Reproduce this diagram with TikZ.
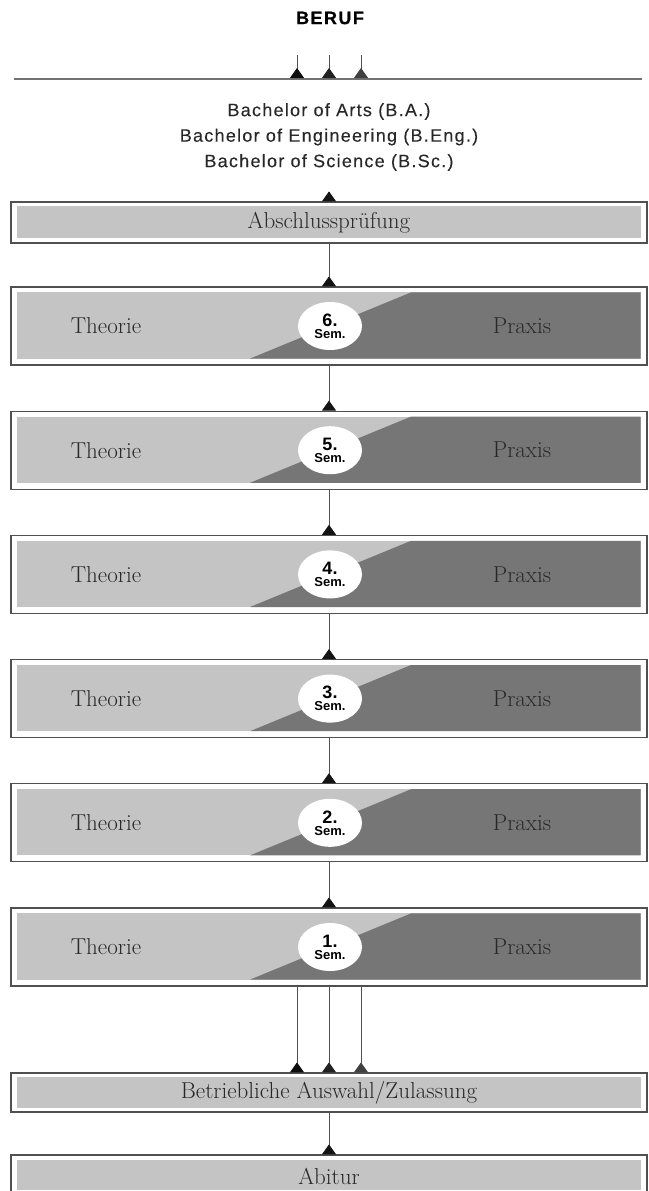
\documentclass[tikz,border=0pt]{standalone}
\usepackage{fontspec}
\setsansfont{Liberation Sans}
\usetikzlibrary{arrows.meta, shapes.geometric}
\definecolor{frame}{RGB}{80,80,80}
\definecolor{lightbar}{RGB}{196,196,196}
\definecolor{darkbar}{RGB}{118,118,118}
\definecolor{ink}{RGB}{40,40,40}

\begin{document}
\begin{tikzpicture}[x=1pt, y=-1pt,
    box/.style={draw=frame, line width=1.2pt, fill=white, minimum width=636pt, inner sep=0pt},
    link/.style={draw=frame, line width=0.9pt, -{Triangle[reversed, width=14pt, length=10pt, color=#1]}},
    link/.default=black!92,
    label/.style={text=ink, inner sep=0pt, font=\fontsize{23}{26}\selectfont\addfontfeature{LetterSpace=6, FakeBold=0.3}},
    semlabel/.style={ellipse, fill=white, minimum width=64pt, minimum height=48pt, inner sep=0pt, align=center, font=\sffamily\bfseries}
  ]
  \useasboundingbox (0,0) rectangle (648,1191);

  % top: Beruf and the degrees
  \node[font=\sffamily\bfseries\fontsize{18}{20}\selectfont\addfontfeature{LetterSpace=8, FakeBold=0.5}] (beruf) at (330,18) {BERUF};
  \coordinate (lineL) at (14,79);
  \coordinate (lineR) at (642,79);
  \draw[draw=black!55, line width=1.8pt] (lineL) -- (lineR);
  \foreach \x/\c in {297/black!95, 329/black!87, 361/black!75}{
    \coordinate (top\x) at (\x,55);
    \coordinate (bot\x) at (\x,78);
    \draw[link=\c] (top\x) -- (bot\x);
  }
  \node[text=ink, align=center, font=\sffamily\fontsize{18}{25.5}\selectfont\addfontfeature{LetterSpace=7, FakeBold=0.2}] (degrees) at (329,137)
    {Bachelor of Arts (B.A.)\\Bachelor of Engineering (B.Eng.)\\Bachelor of Science (B.Sc.)};

  % Abschlusspruefung
  \node[box, minimum height=41pt] (abschluss) at (329,222.5) {};
  \fill[lightbar] ([shift={(7pt,6pt)}]abschluss.south west) rectangle ([shift={(-7pt,-5pt)}]abschluss.north east);
  \node[label] (abschlusstext) at (abschluss) {Abschlussprüfung};

  % semesters
  \foreach \s in {6,...,1}{
    \pgfmathsetmacro\yc{287+(6-\s)*124.2+39}
    \node[box, minimum height=78pt] (sem\s) at (329,\yc) {};
    \fill[lightbar] ([shift={(7pt,7pt)}]sem\s.south west) rectangle ([shift={(-7pt,-6pt)}]sem\s.north east);
    \fill[darkbar] ([shift={(-79pt,7pt)}]sem\s.south) -- ([shift={(82pt,-6pt)}]sem\s.north)
      -- ([shift={(-7pt,-6pt)}]sem\s.north east) -- ([shift={(-7pt,7pt)}]sem\s.south east) -- cycle;
    \node[semlabel] (num\s) at ([xshift=1pt]sem\s) {{\fontsize{18}{18}\selectfont\s.}\\{\fontsize{13}{14}\selectfont Sem.}};
    \node[label] (theorie\s) at ([xshift=-223pt]sem\s) {Theorie};
    \node[label] (praxis\s) at ([xshift=193pt]sem\s) {Praxis};
  }

  % Auswahl and Abitur
  \node[box, minimum height=39pt] (auswahl) at (329,1092.5) {};
  \fill[lightbar] ([shift={(7pt,5pt)}]auswahl.south west) rectangle ([shift={(-7pt,-5pt)}]auswahl.north east);
  \node[label] (auswahltext) at (auswahl) {Betriebliche Auswahl/Zulassung};
  \node[box, minimum height=40pt] (abitur) at (329,1175) {};
  \fill[lightbar] ([shift={(7pt,6pt)}]abitur.south west) rectangle ([shift={(-7pt,-6pt)}]abitur.north east);
  \node[label] (abiturtext) at ([yshift=-1pt]abitur) {Abitur};

  % connectors
  \coordinate (degreetip) at (329,193);
  \draw[link] (degreetip) -- (abschluss.north);
  \draw[link] (abschluss.south) -- (sem6.north);
  \foreach \s [evaluate=\s as \t using int(\s-1)] in {6,...,2}
    \draw[link] (sem\s.south) -- (sem\t.north);
  \foreach \d/\c in {-32/black!95, 0/black!87, 32/black!75}
    \draw[link=\c] ([xshift=\d pt]sem1.south) -- ([xshift=\d pt]auswahl.north);
  \draw[link] (auswahl.south) -- (abitur.north);
\end{tikzpicture}
\end{document}
